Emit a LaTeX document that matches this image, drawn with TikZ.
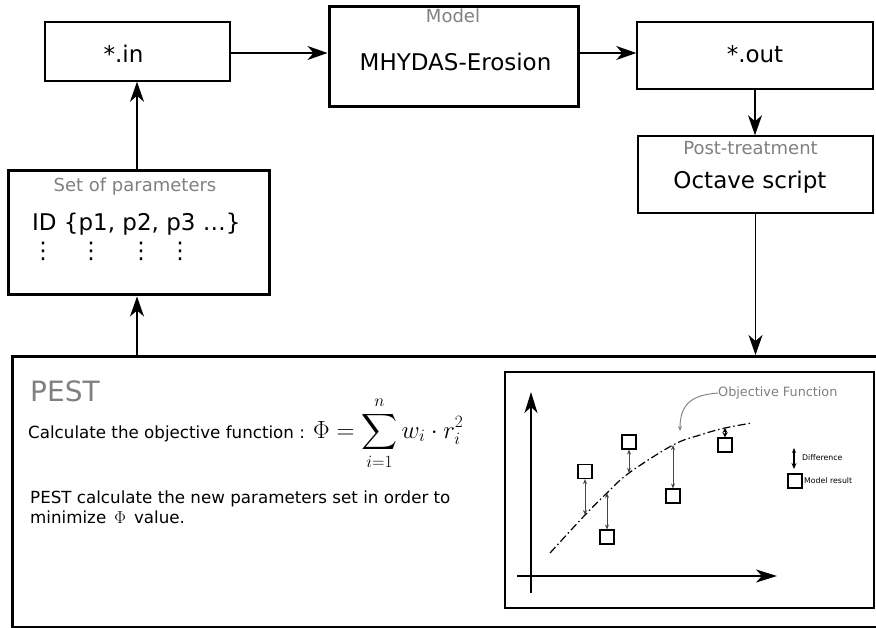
\documentclass[tikz,border=0pt]{standalone}
\usepackage{fontspec}
\setmainfont{DejaVu Sans}
\DeclareFontShape{OMX}{cmex}{m}{n}{<-> cmex10}{}
\usetikzlibrary{arrows.meta}
\definecolor{lblgray}{RGB}{128,128,128}
\definecolor{diffgray}{RGB}{70,70,70}
\tikzset{
  thinbox/.style={draw, line width=1.5pt, inner sep=0pt},
  thickbox/.style={draw, line width=3pt, inner sep=0pt},
  maintext/.style={font=\fontsize{23}{27}\selectfont, anchor=base, inner sep=0pt},
  lbltext/.style={font=\fontsize{18}{21}\selectfont, text=lblgray, anchor=base, inner sep=0pt},
  bodytext/.style={font=\fontsize{16.7}{20}\selectfont, anchor=base west, inner sep=0pt},
  flow/.style={line width=1.3pt, -{Stealth[length=20pt,width=14pt,inset=6pt]}},
  axis/.style={line width=1.5pt, -{Stealth[length=21pt,width=13pt,inset=6pt]}},
  diff/.style={line width=1pt, draw=diffgray, {Stealth[length=5pt,width=4pt]}-{Stealth[length=5pt,width=4pt]}},
  msq/.style={draw, line width=1.1pt, minimum size=14pt, inner sep=0pt},
  legtext/.style={font=\fontsize{7.8}{9}\selectfont, anchor=west, inner sep=0pt},
}
\begin{document}
\begin{tikzpicture}[x=1pt,y=-1pt]
\clip (0,0) rectangle (876,628);
\fill[white] (0,0) rectangle (876,628);

% top row
\node[thinbox, minimum width=185pt, minimum height=59pt] (in) at (137.5,51.5) {};
\node[maintext] (intext) at (123.5,63) {*.in};

\node[thickbox, minimum width=249pt, minimum height=100pt] (model) at (453.5,57) {};
\node[lbltext] (modellbl) at (453,23) {Model};
\node[maintext] (modeltext) at (455.5,71) {MHYDAS-Erosion};

\node[thinbox, minimum width=236pt, minimum height=67pt] (out) at (755,55.5) {};
\node[maintext] (outtext) at (755,63) {*.out};

\node[thinbox, minimum width=235pt, minimum height=77pt] (post) at (755.5,174.5) {};
\node[lbltext] (postlbl) at (750.5,155) {Post-treatment};
\node[maintext] (posttext) at (750,189) {Octave script};

% parameters
\node[thickbox, minimum width=261pt, minimum height=124pt] (params) at (138.5,233) {};
\node[lbltext] (paramlbl) at (135,192) {Set of parameters};
\node[maintext, anchor=base west] (idtext) at (32,231) {ID \{p1, p2, p3 …\}};
\foreach \xx/\nm in {43/da,91/db,141/dc,180/dd}
  \node[font=\fontsize{23}{27}\selectfont, inner sep=0pt] (\nm) at (\xx,251) {⋮};

% PEST box
\node[thickbox, minimum width=880pt, minimum height=271pt, anchor=north west] (pest) at (11,355) {};
\node[font=\fontsize{28}{32}\selectfont, text=lblgray, anchor=base west, inner sep=0pt] (pestlbl) at (30,402) {PEST};
\node[bodytext] (calc) at (28,438)
  {Calculate the objective function : \kern1pt{\fontsize{25}{30}\selectfont$\displaystyle \Phi=\sum_{i=1}^{n} w_i\cdot r_i^2$}};
\node[bodytext] (newp1) at (30,503) {PEST calculate the new parameters set in order to};
\node[bodytext] (newp2) at (30,523) {minimize \,$\Phi$\, value.};

% plot
\node[thinbox, minimum width=369pt, minimum height=236pt] (plot) at (689.5,490) {};
\coordinate (yb) at (531,593); \coordinate (yt) at (531,392);
\coordinate (xl) at (517,576); \coordinate (xr) at (777,576);
\draw[axis] (yb) -- (yt);
\draw[axis] (xl) -- (xr);

\coordinate (c1) at (585,515);
\coordinate (c2) at (607,493);
\coordinate (c3) at (629,473);
\coordinate (c4) at (673,445);
\coordinate (c5) at (725,428);
\draw[line width=1.2pt, dash pattern=on 8pt off 3pt on 1.5pt off 3pt]
  plot[smooth, tension=0.6] coordinates {(550,553) (c1) (c2) (c3) (c4) (700,435) (c5) (752,423)};

\node[msq] (s1) at (585,471.5) {};
\node[msq] (s2) at (607,537) {};
\node[msq] (s3) at (629,442) {};
\node[msq] (s4) at (673,496) {};
\node[msq] (s5) at (725,445) {};
\draw[diff] (s1.south) -- (c1);
\draw[diff] (s2.north) -- (c2);
\draw[diff] (s3.south) -- (c3);
\draw[diff] (s4.north) -- (c4);
\draw[line width=1pt, {Stealth[length=5pt,width=5pt]}-{Stealth[length=5pt,width=5pt]}] (s5.north) -- (c5);

\node[font=\fontsize{12.8}{15}\selectfont, text=lblgray, anchor=west, inner sep=0pt] (obj) at (718,393) {Objective Function};
\coordinate (objtip) at (680,431);
\draw[lblgray, line width=0.9pt, -{Stealth[length=5pt,width=4pt]}] (obj.west) .. controls (694,395) and (680,402) .. (objtip);

% legend
\coordinate (la) at (794,448); \coordinate (lb) at (794,469);
\draw[line width=1.1pt, {Stealth[length=5pt,width=4pt]}-{Stealth[length=6pt,width=5pt]}] (la) -- (lb);
\node[legtext] (difflbl) at (802,458) {Difference};
\node[msq] (legsq) at (795,481) {};
\node[legtext] (mrlbl) at (804,481) {Model result};

% connectors
\draw[flow] (in.east |- 0,53) -- (model.west |- 0,53);
\draw[flow] (model.east |- 0,53) -- (out.west |- 0,53);
\draw[flow] (out.south) -- (out.south |- post.north);
\draw[flow] (post.south) -- (post.south |- pest.north);
\draw[flow] (params.north -| 137,0) -- (in.south -| 137,0);
\draw[flow] (pest.north -| 137,0) -- (params.south -| 137,0);
\end{tikzpicture}
\end{document}
